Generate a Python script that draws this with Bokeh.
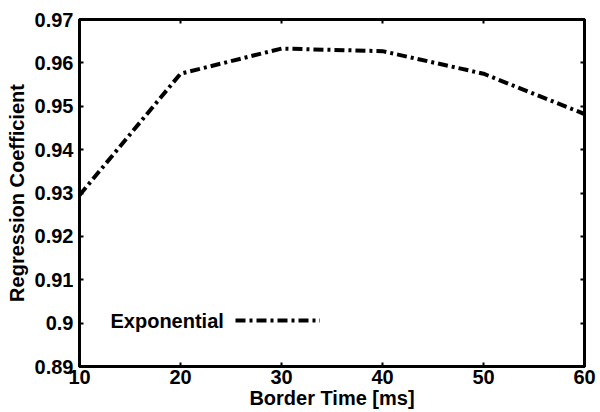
from bokeh.plotting import figure
from bokeh.models import (LinearAxis, FixedTicker, Legend, LegendItem, Label, Range1d)
from bokeh.embed import file_html
from bokeh.resources import INLINE

border_time = [10, 20, 30, 40, 50, 60]
regression = [0.9295, 0.9575, 0.9633, 0.9627, 0.9575, 0.9482]
x_ticks = [10, 20, 30, 40, 50, 60]
y_ticks = [0.89, 0.90, 0.91, 0.92, 0.93, 0.94, 0.95, 0.96, 0.97]
y_tick_labels = ["0.89", "0.9", "0.91", "0.92", "0.93", "0.94", "0.95", "0.96", "0.97"]
series_name = "Exponential"

FONT = "Liberation Sans"

p = figure(width=600, height=412, output_backend="svg", toolbar_location=None,
           x_range=Range1d(10, 60), y_range=Range1d(0.89, 0.97),
           min_border_left=79, min_border_right=16, min_border_top=19, min_border_bottom=46)
p.xgrid.visible = False
p.ygrid.visible = False
p.outline_line_color = "black"
p.outline_line_width = 3
p.background_fill_color = "white"
p.border_fill_color = "white"

r = p.line(border_time, regression, line_color="black", line_width=4, line_dash="10 4 3 4")

def style_axis(ax, show_labels=True):
    ax.axis_line_width = 3
    ax.axis_line_color = "black"
    ax.major_tick_in = 4
    ax.major_tick_out = 0
    ax.major_tick_line_width = 2
    ax.minor_tick_line_color = None
    ax.major_label_text_font = FONT
    ax.major_label_text_font_style = "bold"
    ax.major_label_text_font_size = "20px"
    ax.major_label_text_color = "black"
    ax.major_label_standoff = 5
    ax.axis_label_text_font = FONT
    ax.axis_label_text_font_style = "bold"
    ax.axis_label_text_font_size = "20px"
    ax.axis_label_text_color = "black"
    if not show_labels:
        ax.major_label_text_color = None

xax = p.xaxis[0]
yax = p.yaxis[0]
xax.ticker = FixedTicker(ticks=x_ticks)
yax.ticker = FixedTicker(ticks=y_ticks)
yax.major_label_overrides = {t: l for t, l in zip(y_ticks, y_tick_labels)}
style_axis(xax)
style_axis(yax)
xax.axis_label = "Border Time [ms]"
yax.axis_label = "Regression Coefficient"
xax.axis_label_standoff = 0
yax.axis_label_standoff = 4
xax.major_label_standoff = 3
yax.major_label_standoff = 6

top = LinearAxis(ticker=FixedTicker(ticks=x_ticks))
style_axis(top, False)
top.major_label_text_font_size = "0px"
p.add_layout(top, "above")
right = LinearAxis(ticker=FixedTicker(ticks=y_ticks))
style_axis(right, False)
right.major_label_text_font_size = "0px"
p.add_layout(right, "right")

legend = Legend(items=[LegendItem(label="", renderers=[r])], location=(156, 36),
                glyph_width=85, glyph_height=20, padding=0, margin=0,
                label_standoff=0, label_width=0, border_line_color=None,
                background_fill_alpha=0)
p.add_layout(legend, "center")

p.add_layout(Label(x=31, y=46, x_units="screen", y_units="screen", text=series_name,
                   text_font=FONT, text_font_style="bold", text_font_size="20px",
                   text_baseline="middle", text_color="black"))

open("out.html", "w").write(file_html(p, INLINE))
